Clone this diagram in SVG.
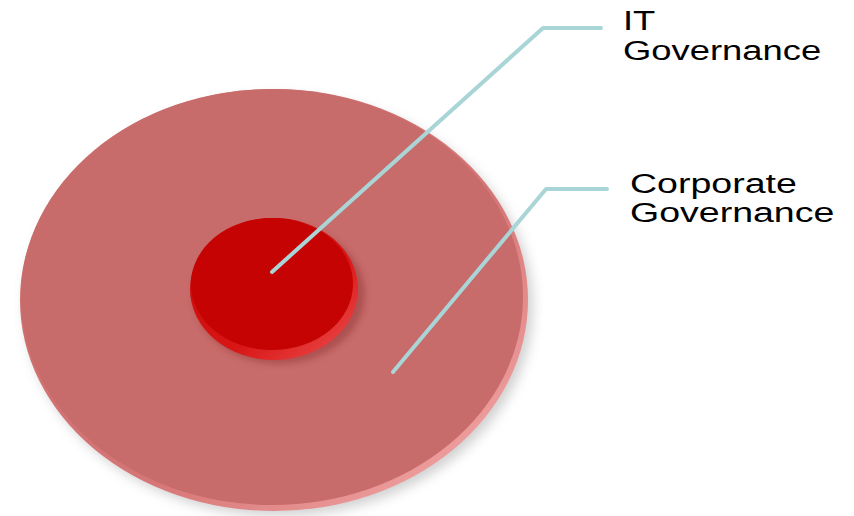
<svg xmlns="http://www.w3.org/2000/svg" width="854" height="516" viewBox="0 0 854 516">
<defs>
<filter id="blur8" x="-20%" y="-20%" width="140%" height="140%"><feGaussianBlur stdDeviation="6"/></filter>
<filter id="blur3" x="-20%" y="-20%" width="140%" height="140%"><feGaussianBlur stdDeviation="3"/></filter>
<linearGradient id="bigRim" x1="0" y1="0" x2="1" y2="1">
<stop offset="0" stop-color="#c96868"/>
<stop offset="0.6" stop-color="#d77676"/>
<stop offset="0.85" stop-color="#ec9a9a"/>
<stop offset="1" stop-color="#d87070"/>
</linearGradient>
<linearGradient id="smallRim" x1="0" y1="0" x2="1" y2="1">
<stop offset="0" stop-color="#c80606"/>
<stop offset="0.6" stop-color="#d81616"/>
<stop offset="0.85" stop-color="#e63a3a"/>
<stop offset="1" stop-color="#d41212"/>
</linearGradient>
</defs>
<style>
.lbl{font-family:"Liberation Sans",Arial,sans-serif;font-size:28px;fill:#000}
.conn{fill:none;stroke:#a9d5d7;stroke-width:4;stroke-linecap:round;stroke-linejoin:round}
</style>
<rect width="854" height="516" fill="#ffffff"/>
<g id="corporate-governance">
<ellipse cx="279" cy="306" rx="254" ry="210" fill="#9a9a9a" opacity="0.45" filter="url(#blur8)"/>
<ellipse cx="274" cy="300" rx="254" ry="211" fill="url(#bigRim)"/>
<ellipse cx="272" cy="297" rx="251" ry="208" fill="#c86b6b"/>
</g>
<g id="it-governance">
<ellipse cx="279" cy="294" rx="86" ry="70" fill="#8a3030" opacity="0.45" filter="url(#blur3)"/>
<ellipse cx="274" cy="289" rx="84" ry="71" fill="url(#smallRim)"/>
<ellipse cx="272" cy="284" rx="81" ry="66" fill="#c50303"/>
</g>
<g id="connectors">
<polyline class="conn" points="272,272 543,28 601,28"/>
<polyline class="conn" points="393,372 546,189 607,189"/>
</g>
<g id="label-it">
<g transform="translate(623 0) scale(1.3 1)">
<text class="lbl" x="0" y="30">IT</text>
<text class="lbl" x="0" y="60">Governance</text>
</g>
</g>
<g id="label-corporate">
<g transform="translate(630 0) scale(1.34 1)">
<text class="lbl" x="0" y="193">Corporate</text>
<text class="lbl" x="0" y="222">Governance</text>
</g>
</g>
</svg>
